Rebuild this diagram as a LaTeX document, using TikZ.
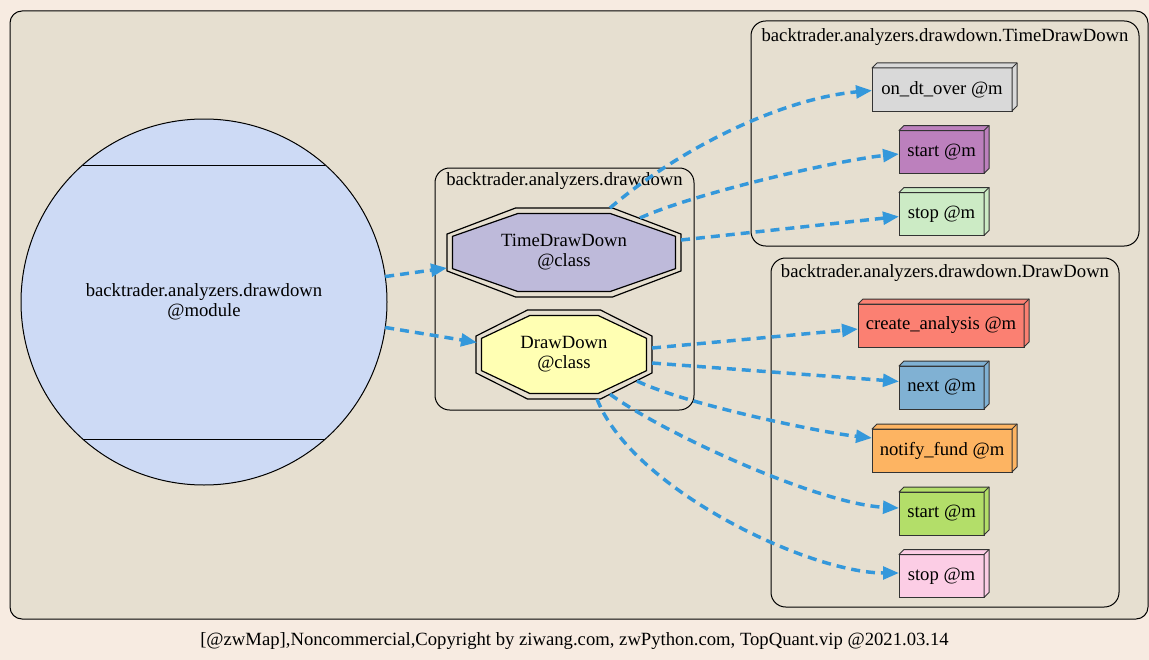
\documentclass[tikz,border=0pt]{standalone}
\usepackage{fontspec}
\setmainfont{Liberation Serif}
\usetikzlibrary{arrows.meta,calc}
\definecolor{bgc}{HTML}{F7EBE1}
\definecolor{clc}{HTML}{E6DFD0}
\definecolor{modc}{HTML}{CDDAF5}
\definecolor{edgec}{HTML}{3498DB}
\definecolor{tddc}{HTML}{BEBADA}
\definecolor{ddc}{HTML}{FFFFB3}
\definecolor{c1}{HTML}{D9D9D9}
\definecolor{c2}{HTML}{BC80BD}
\definecolor{c3}{HTML}{CCEBC5}
\definecolor{c4}{HTML}{FB8072}
\definecolor{c5}{HTML}{80B1D3}
\definecolor{c6}{HTML}{FDB462}
\definecolor{c7}{HTML}{B3DE69}
\definecolor{c8}{HTML}{FCCDE5}
\newcommand\tdbox[6]{%
  \node[boxn, fill=#5, minimum width=#4*0.75pt] (#1) at (#2,#3) {#6};
  \draw[boxline, fill=#5] (#1.north west) -- ++(5,-5) -- ([shift={(5,-5)}]#1.north east)
     -- ([shift={(5,-5)}]#1.south east) -- (#1.south east) -- (#1.north east) -- cycle;
  \draw[boxline] (#1.north east) -- ++(5,-5);
}
\newcommand\octpath[2]{(-#1*0.4142,-#2) -- (#1*0.4142,-#2) -- (#1,-#2*0.4142) -- (#1,#2*0.4142)
  -- (#1*0.4142,#2) -- (-#1*0.4142,#2) -- (-#1,#2*0.4142) -- (-#1,-#2*0.4142) -- cycle}
\begin{document}
\begin{tikzpicture}[x=0.75pt,y=-0.75pt,
  font=\fontsize{14}{15}\selectfont,
  cluster/.style={draw=black, fill=clc, line width=0.75pt},
  boxn/.style={draw=black!80, line width=0.75pt, minimum height=43*0.75pt, inner sep=0, outer sep=0, anchor=center},
  boxline/.style={draw=black!80, line width=0.75pt, line join=round},
  octline/.style={draw=black, line width=0.9pt},
  edge/.style={draw=edgec, line width=2.6pt, dash pattern=on 6.75pt off 4.5pt,
     -{Triangle[length=12pt,width=9.5pt]}},
  lbl/.style={inner sep=0, anchor=center}]
\useasboundingbox (0,0) rectangle (1149,660);
\fill[bgc] (0,0) rectangle (1149,660);
% clusters
\draw[cluster, rounded corners=9pt] (10,11) rectangle (1148,619);
\draw[cluster, rounded corners=11pt] (435,168) rectangle (694,410);
\draw[cluster, rounded corners=11pt] (751,21) rectangle (1139,246);
\draw[cluster, rounded corners=11pt] (771,258) rectangle (1119,607);
\node[lbl] (l1) at (564.5,181) {backtrader.analyzers.drawdown};
\node[lbl] (l2) at (945,37) {backtrader.analyzers.drawdown.TimeDrawDown};
\node[lbl] (l3) at (945,273) {backtrader.analyzers.drawdown.DrawDown};
% module circle
\node[circle, draw=black, line width=0.75pt, fill=modc, minimum size=366*0.75pt, inner sep=0, outer sep=0, align=center] (mod) at (204,302) {backtrader.analyzers.drawdown\\@module};
\draw[line width=0.75pt] ($(mod.center)+(-121.3,-137)$) -- ($(mod.center)+(121.3,-137)$);
\draw[line width=0.75pt] ($(mod.center)+(-121.3,137)$) -- ($(mod.center)+(121.3,137)$);
% class octagons
\draw[octline, shift={(564,252.5)}] \octpath{117}{44.5};
\draw[octline, fill=tddc, shift={(564,252.5)}] \octpath{111.5}{39};
\node[inner sep=0, outer sep=0, minimum width=234*0.75pt, minimum height=89*0.75pt, align=center] (tdd) at (564,252.5) {TimeDrawDown\\@class};
\draw[octline, shift={(564,354.5)}] \octpath{88}{44.5};
\draw[octline, fill=ddc, shift={(564,354.5)}] \octpath{82.5}{39};
\node[inner sep=0, outer sep=0, minimum width=176*0.75pt, minimum height=89*0.75pt, align=center] (dd) at (564,354.5) {DrawDown\\@class};
% method boxes
\tdbox{odo}{942}{89.5}{140}{c1}{on\_dt\_over @m}
\tdbox{st1}{941.5}{152}{85}{c2}{start @m}
\tdbox{sp1}{941.5}{214}{85}{c3}{stop @m}
\tdbox{ca}{941}{325.5}{166}{c4}{create\_analysis @m}
\tdbox{nx}{941.5}{387.5}{85}{c5}{next @m}
\tdbox{nf}{942}{450.5}{140}{c6}{notify\_fund @m}
\tdbox{st2}{941.5}{513.5}{85}{c7}{start @m}
\tdbox{sp2}{941.5}{576}{85}{c8}{stop @m}
% edges
\draw[edge] (mod.8) -- ([shift={(-117,15.5)}]tdd.center);
\draw[edge] (mod.-8) -- ([shift={(-87,-12)}]dd.center);
\draw[edge] ([shift={(46,-44.5)}]tdd.center) .. controls +(70,-60) and +(-90,8) .. ([shift={(0,1)}]odo.west);
\draw[edge] ([shift={(76,-34.5)}]tdd.center) .. controls +(55,-25) and +(-60,6) .. ([shift={(0,2)}]st1.west);
\draw[edge] ([shift={(117,-12.5)}]tdd.center) -- ([shift={(0,2.5)}]sp1.west);
\draw[edge] ([shift={(88,-6.5)}]dd.center) -- ([shift={(0,3.5)}]ca.west);
\draw[edge] ([shift={(88,8.5)}]dd.center) -- ([shift={(0,-6)}]nx.west);
\draw[edge] ([shift={(73,26.5)}]dd.center) .. controls +(45,22) and +(-55,-6) .. ([shift={(0,-12.5)}]nf.west);
\draw[edge] ([shift={(46,39.7)}]dd.center) .. controls +(55,40) and +(-80,-4) .. ([shift={(0,-5.5)}]st2.west);
\draw[edge] ([shift={(33,44.5)}]dd.center) .. controls +(35,90) and +(-90,0) .. ([shift={(0,-3)}]sp2.west);
% footer
\node[lbl] (foot) at (574.5,641) {[@zwMap],Noncommercial,Copyright by ziwang.com, zwPython.com, TopQuant.vip @2021.03.14};
\end{tikzpicture}
\end{document}
